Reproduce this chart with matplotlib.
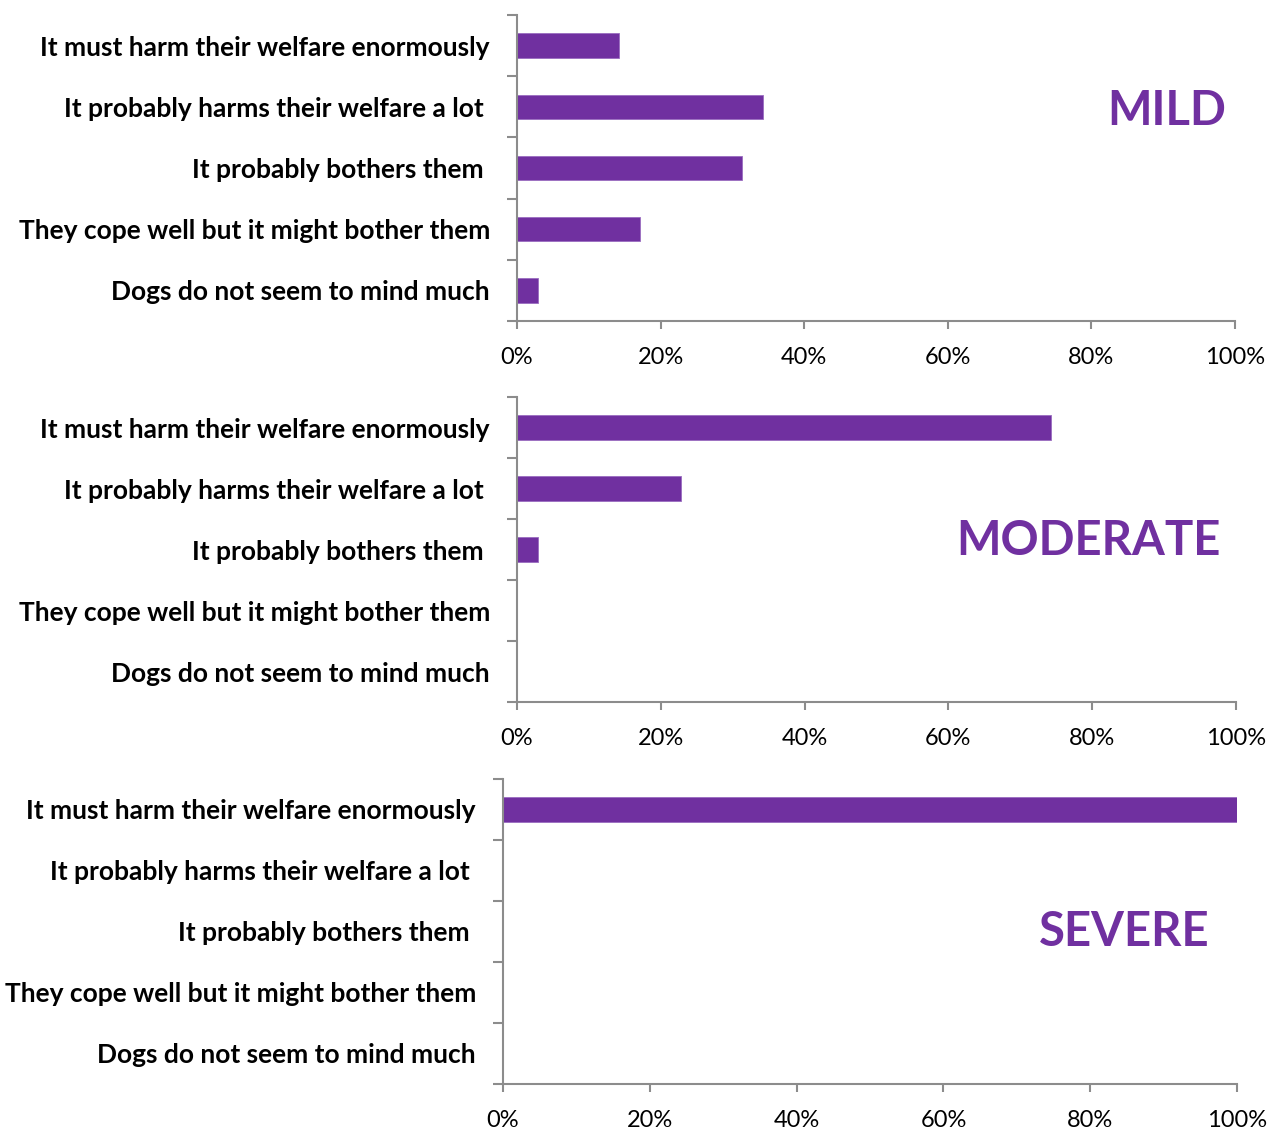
import matplotlib.pyplot as plt
import numpy as np

categories = ['It must harm their welfare enormously',
              'It probably harms their welfare a lot ',
              'It probably bothers them ',
              'They cope well but it might bother them',
              'Dogs do not seem to mind much']
mild = [14.2, 34.3, 31.3, 17.1, 2.9]
moderate = [74.3, 22.8, 2.9, 0, 0]
severe = [100, 0, 0, 0, 0]
panel_names = ['MILD', 'MODERATE', 'SEVERE']
x_ticks = [0, 20, 40, 60, 80, 100]
x_labels = ['0%', '20%', '40%', '60%', '80%', '100%']

purple = '#7030A0'
grey = '#8c8c8c'
font = 'Lato'

fig = plt.figure(figsize=(12.79, 11.36), dpi=100)

# axes rectangles, worked out from the pixel layout
rects = [[0.4042, 0.7174, 0.5614, 0.2694],
         [0.4042, 0.3820, 0.5622, 0.2685],
         [0.3933, 0.0458, 0.5739, 0.2685]]
name_pos = [(0.987, 0.687), (0.978, 0.528), (0.963, 0.498)]

for rect, vals, name, pos in zip(rects, [mild, moderate, severe], panel_names, name_pos):
    ax = fig.add_axes(rect)
    y = np.arange(len(categories))
    ax.barh(y, vals, height=0.4, color=purple, edgecolor='#9a6cc0', linewidth=0.6)
    ax.set_xlim(0, 100)
    ax.set_ylim(len(categories) - 0.5, -0.5)

    ax.set_yticks(y)
    ax.set_yticklabels(categories, fontsize=19, fontweight='bold', family=font)
    ax.set_yticks(np.arange(-0.5, len(categories)), minor=True)
    ax.tick_params(axis='y', which='major', length=0, pad=19.5)
    ax.tick_params(axis='y', which='minor', length=7, width=1.5, color=grey)

    ax.set_xticks(x_ticks)
    ax.set_xticklabels(x_labels, fontsize=17, family=font)
    ax.tick_params(axis='x', length=6, width=1.5, color=grey, pad=12.5)

    for s in ['top', 'right']:
        ax.spines[s].set_visible(False)
    for s in ['left', 'bottom']:
        ax.spines[s].set_color(grey)
        ax.spines[s].set_linewidth(1.5)

    ax.text(pos[0], pos[1], name, transform=ax.transAxes, ha='right', va='center',
            fontsize=34, fontweight='bold', color=purple, family=font)

plt.savefig('out.png', dpi=100)
